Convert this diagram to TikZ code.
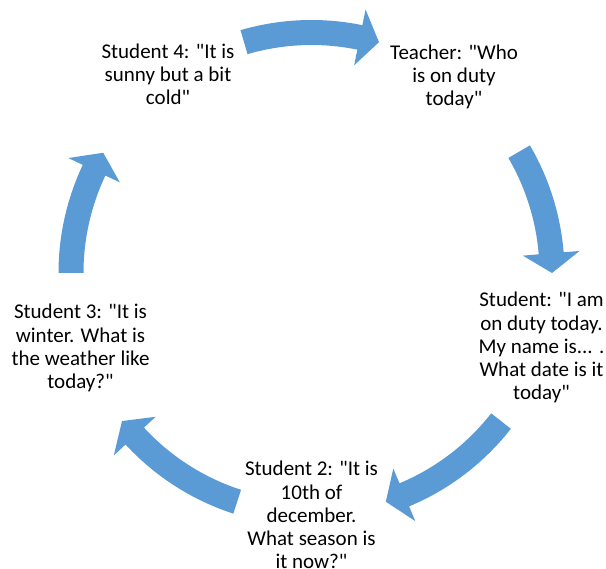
\documentclass[tikz,border=0pt]{standalone}
\usepackage{fontspec}
\setmainfont{Carlito}[Ligatures=TeXOff]
\usetikzlibrary{calc}
\definecolor{arrowblue}{HTML}{5B9BD5}
\newcommand{\cyclearrow}[2]{%
  \pgfmathsetmacro{\hb}{#2+4.7}%
  \fill[arrowfill] ($(c)+(#1:253)$) arc[start angle=#1, end angle=\hb, radius=253]
    -- ($(c)+(\hb:269)$) -- ($(c)+(#2:240.5)$) -- ($(c)+(\hb:212)$)
    -- ($(c)+(\hb:228)$) arc[start angle=\hb, end angle=#1, radius=228] -- cycle;}
\begin{document}
\begin{tikzpicture}[x=1pt,y=1pt,
  arrowfill/.style={fill=arrowblue},
  txt/.style={align=center, anchor=base, inner sep=0pt, text=black,
    font=\fontsize{21}{23.3}\selectfont}]
\useasboundingbox (0,0) rectangle (606,569);
\coordinate (c) at (311.5,296);
\node[txt] (t)  at (454,463)   {Teacher: "Who\\is on duty\\today"};
\node[txt] (s1) at (541.5,169) {Student: "I am\\on duty today.\\My name is... .\\What date is it\\today"};
\node[txt] (s2) at (311.5,0)   {Student 2: "It is\\10th of\\december.\\What season is\\it now?"};
\node[txt] (s3) at (80.5,180.3) {Student 3: "It is\\winter. What is\\the weather like\\today?"};
\node[txt] (s4) at (168,464)   {Student 4: "It is\\sunny but a bit\\cold"};
\cyclearrow{106.3}{73.7}
\cyclearrow{30.3}{0}
\cyclearrow{-38}{-72}
\cyclearrow{-108}{-142}
\cyclearrow{180}{150}
\end{tikzpicture}
\end{document}
